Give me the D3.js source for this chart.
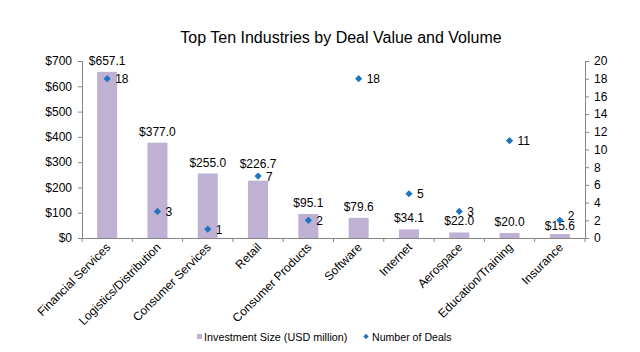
<!DOCTYPE html>
<html><head><meta charset="utf-8">
<script src="https://cdn.jsdelivr.net/npm/d3@7"></script>
<style>body{margin:0;background:#fff}text{font-family:"Liberation Sans",Arial,sans-serif}</style>
</head><body><svg id="c" width="640" height="352"></svg>
<script>
const categories = ["Financial Services","Logistics/Distribution","Consumer Services","Retail","Consumer Products","Software","Internet","Aerospace","Education/Training","Insurance"];
const investment = [657.1,377.0,255.0,226.7,95.1,79.6,34.1,22.0,20.0,15.6];
const deals = [18,3,1,7,2,18,5,3,11,2];
const leftTicks = [0,100,200,300,400,500,600,700];
const rightTicks = [0,2,4,6,8,10,12,14,16,18,20];

// label placement tweaks (styling only)
const barLabelShift = {"Retail": -6, "Insurance": 3};
const dealLabelShift = {"Insurance": -5};

const svg = d3.select("#c");
const L = 82, R = 585, T = 61, B = 238;
const axisColor = "#868686";
const barColor = "#bfb1d4";
const dotColor = "#1f74c1";
const xb = d3.scaleBand().domain(categories).range([L, R]);
const cx = c => xb(c) + xb.bandwidth()/2;
const yL = d3.scaleLinear().domain([0,700]).range([B, T]);
const yR = d3.scaleLinear().domain([0,20]).range([B, T]);

svg.append("text").attr("x", 341).attr("y", 43).attr("text-anchor","middle")
  .attr("font-size", 16).attr("fill","#000").text("Top Ten Industries by Deal Value and Volume");

// bars
svg.selectAll("rect.bar").data(investment).enter().append("rect")
  .attr("x",(d,i)=>cx(categories[i]) - 10).attr("width",20)
  .attr("y",d=>yL(d)).attr("height",d=>B-yL(d)).attr("fill",barColor);

// axes
const gl = svg.append("g").attr("transform",`translate(${L},0)`)
  .call(d3.axisLeft(yL).tickValues(leftTicks).tickSize(4).tickPadding(6).tickFormat(d=>"$"+d));
const gr = svg.append("g").attr("transform",`translate(${R},0)`)
  .call(d3.axisRight(yR).tickValues(rightTicks).tickSize(4).tickPadding(5));
const gx = svg.append("g").attr("transform",`translate(0,${B})`)
  .call(d3.axisBottom(xb).tickSize(0).tickFormat(""));
const bounds = categories.map(c=>xb(c)).concat([R]);
gx.selectAll("line.b").data(bounds).enter().append("line").attr("class","b")
  .attr("x1",d=>d).attr("x2",d=>d).attr("y1",0).attr("y2",4).attr("stroke",axisColor);
[gl,gr,gx].forEach(g=>{
  g.select(".domain").attr("stroke",axisColor);
  g.selectAll(".tick line").attr("stroke",axisColor);
  g.selectAll("text").attr("font-size",12).attr("fill","#000").attr("font-family","Liberation Sans, Arial, sans-serif");
});
gx.selectAll(".tick text").remove();

// category labels
svg.selectAll("text.cat").data(categories).enter().append("text")
  .attr("text-anchor","end").attr("font-size",12).attr("fill","#000")
  .attr("transform",d=>`translate(${cx(d)+4},${B+10}) rotate(-45)`)
  .text(d=>d);

// bar labels
svg.selectAll("text.bl").data(investment).enter().append("text")
  .attr("x",(d,i)=>cx(categories[i])).attr("y",(d,i)=>yL(d)-7+(barLabelShift[categories[i]]||0))
  .attr("text-anchor","middle").attr("font-size",12).attr("fill","#000")
  .text(d=>"$"+d.toFixed(1));

// diamonds (squares rotated 45deg)
const dsym = d3.symbol().type(d3.symbolSquare).size(26);
svg.selectAll("path.dm").data(deals).enter().append("path")
  .attr("d",dsym).attr("fill",dotColor)
  .attr("transform",(d,i)=>`translate(${cx(categories[i])},${yR(d)}) rotate(45)`);
svg.selectAll("text.dl").data(deals).enter().append("text")
  .attr("x",(d,i)=>cx(categories[i])+8).attr("y",(d,i)=>yR(d)+4.5+(dealLabelShift[categories[i]]||0))
  .attr("font-size",12).attr("fill","#000").text(d=>d);

// legend
svg.append("rect").attr("x",197).attr("y",334).attr("width",5).attr("height",5).attr("fill",barColor);
svg.append("text").attr("x",204).attr("y",340.5).attr("font-size",10.8).attr("fill","#000").text("Investment Size (USD million)");
svg.append("path").attr("d",d3.symbol().type(d3.symbolSquare).size(14)).attr("fill",dotColor)
  .attr("transform","translate(366,336.5) rotate(45)");
svg.append("text").attr("x",372).attr("y",340.5).attr("font-size",10.6).attr("fill","#000").text("Number of Deals");
</script></body></html>
